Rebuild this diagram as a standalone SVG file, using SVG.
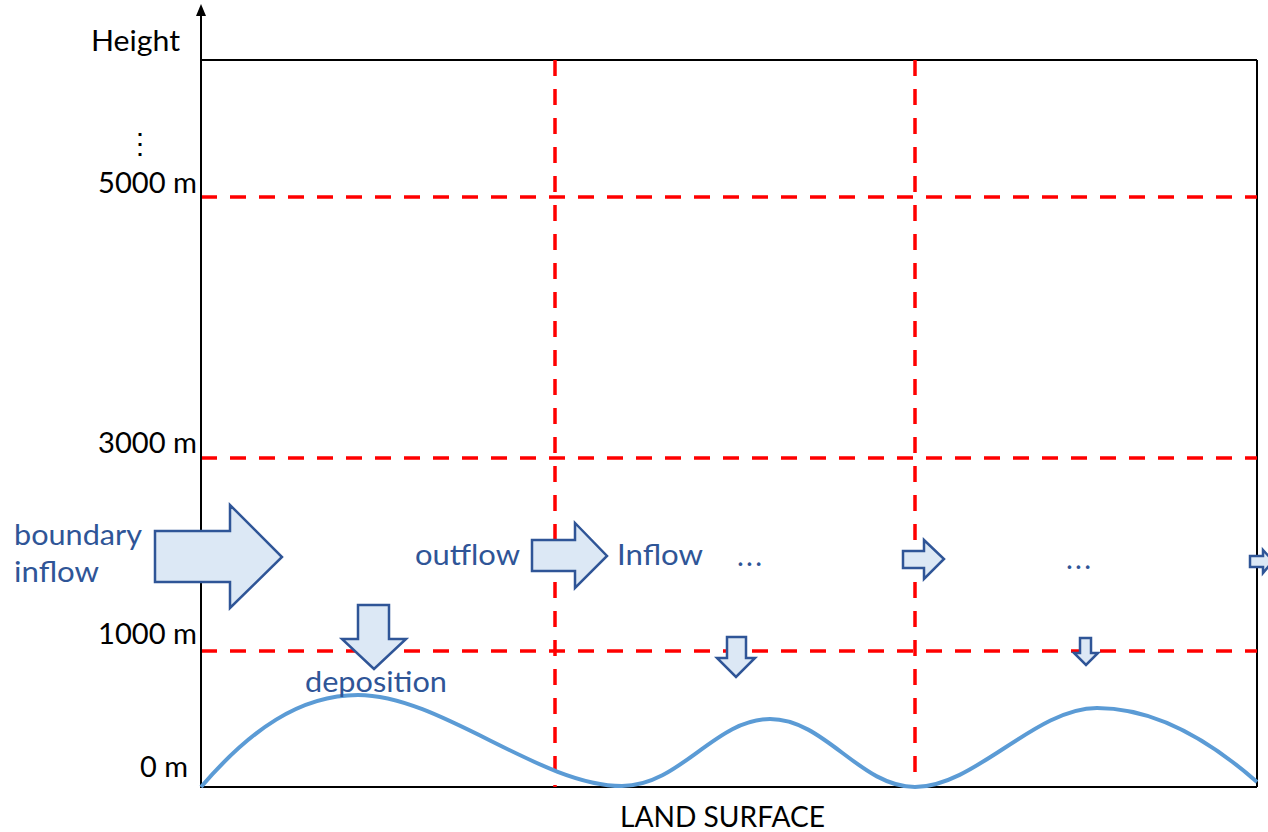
<svg xmlns="http://www.w3.org/2000/svg" width="1268" height="832" viewBox="0 0 1268 832">
<style>
.lbl{font-family:Lato,"Open Sans","Liberation Sans",sans-serif;font-size:28px;fill:#000}
.blu{font-family:Lato,"Open Sans","Liberation Sans",sans-serif;font-size:29px;fill:#2f5597}
.grid{stroke:#ff0000;stroke-width:3.5;stroke-dasharray:16 13;fill:none}
.frame{stroke:#000;stroke-width:2;fill:none}
.barr{fill:#dce8f5;stroke:#2f5597;stroke-width:2.5;stroke-linejoin:miter}
.land{fill:none;stroke:#5b9bd5;stroke-width:4}
</style>
<rect width="1268" height="832" fill="#fff"/>
<g id="frame">
<line class="frame" x1="201" y1="60" x2="1257" y2="60"/>
<line class="frame" x1="1257" y1="60" x2="1257" y2="787"/>
<line class="frame" x1="201" y1="787" x2="1257" y2="787"/>
</g>
<g id="grid">
<line class="grid" x1="201" y1="197" x2="1257" y2="197"/>
<line class="grid" x1="201" y1="458" x2="1257" y2="458"/>
<line class="grid" x1="201" y1="651" x2="1257" y2="651"/>
<line class="grid" x1="555" y1="60" x2="555" y2="787"/>
<line class="grid" x1="915" y1="60" x2="915" y2="787"/>
</g>
<g id="axis">
<line x1="201" y1="788" x2="201" y2="14" stroke="#000" stroke-width="2"/>
<polygon points="201,4 196,16 206,16" fill="#000"/>
<text class="lbl" x="91" y="51" textLength="89" lengthAdjust="spacingAndGlyphs">Height</text>
<text class="lbl" x="140" y="153" text-anchor="middle">⋮</text>
<text class="lbl" x="98" y="193" textLength="99" lengthAdjust="spacingAndGlyphs">5000 m</text>
<text class="lbl" x="98" y="453" textLength="99" lengthAdjust="spacingAndGlyphs">3000 m</text>
<text class="lbl" x="98" y="644" textLength="99" lengthAdjust="spacingAndGlyphs">1000 m</text>
<text class="lbl" x="140" y="777" textLength="48" lengthAdjust="spacingAndGlyphs">0 m</text>
<text class="lbl" x="620" y="827" textLength="205" lengthAdjust="spacingAndGlyphs">LAND SURFACE</text>
</g>
<g id="land">
<path class="land" d="M201,787 C250,730 300,695 358,695 C440,695 540,786 622,786 C680,786 715,719 770,719 C825,719 860,787 915,787 C975,787 1035,708 1097,708 C1160,708 1215,745 1257,782"/>
</g>
<g id="boundary-inflow">
<path class="barr" d="M155,531 L230,531 L230,505 L282,557 L230,608 L230,582 L155,582 Z"/>
<text class="blu" x="14" y="545" textLength="128" lengthAdjust="spacingAndGlyphs">boundary</text>
<text class="blu" x="14" y="582" textLength="85" lengthAdjust="spacingAndGlyphs">inflow</text>
</g>
<g id="deposition">
<path class="barr" d="M358,605 L389,605 L389,639 L406,639 L374,669 L342,639 L358,639 Z"/>
<text class="blu" x="305" y="692" textLength="142" lengthAdjust="spacingAndGlyphs">deposition</text>
</g>
<g id="outflow">
<path class="barr" d="M532,540 L575,540 L575,523 L607,556 L575,588 L575,571 L532,571 Z"/>
<text class="blu" x="415" y="565" textLength="105" lengthAdjust="spacingAndGlyphs">outflow</text>
<text class="blu" x="617" y="565" textLength="86" lengthAdjust="spacingAndGlyphs">Inflow</text>
<text class="blu" x="737" y="566" textLength="25" lengthAdjust="spacing">...</text>
</g>
<g id="cell2">
<path class="barr" d="M727,637 L746,637 L746,658 L755,658 L736,677 L717,658 L727,658 Z"/>
<path class="barr" d="M903,551 L924,551 L924,540 L944,559 L924,579 L924,568 L903,568 Z"/>
<text class="blu" x="1066" y="569" textLength="25" lengthAdjust="spacing">...</text>
</g>
<g id="cell3">
<path class="barr" d="M1080,638 L1091,638 L1091,653 L1098,653 L1086,665 L1074,653 L1080,653 Z"/>
<path class="barr" d="M1250,556 L1263,556 L1263,550 L1273,561 L1263,573 L1263,567 L1250,567 Z"/>
</g>
</svg>
